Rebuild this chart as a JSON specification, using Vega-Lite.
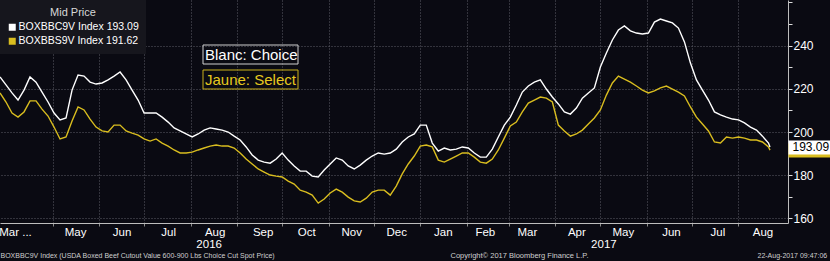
{
  "$schema": "https://vega.github.io/schema/vega-lite/v6.json",
  "width": 788,
  "height": 223,
  "autosize": {"type": "none"},
  "padding": {"left": 0, "top": 0, "right": 42, "bottom": 38},
  "background": "#0a0a12",
  "config": {
    "view": {"stroke": null},
    "font": "Liberation Sans",
    "axis": {"labelFont": "Liberation Sans", "titleFont": "Liberation Sans"},
    "legend": {"labelFont": "Liberation Sans", "titleFont": "Liberation Sans"}
  },
  "data": {
    "values": [
      {"date": "2016-03-27", "choice": 225.5, "select": 218.1},
      {"date": "2016-03-31", "choice": 221.8, "select": 213.9},
      {"date": "2016-04-04", "choice": 218.1, "select": 208.8},
      {"date": "2016-04-08", "choice": 214.8, "select": 206.9},
      {"date": "2016-04-12", "choice": 219.4, "select": 209.3},
      {"date": "2016-04-16", "choice": 225.5, "select": 214.4},
      {"date": "2016-04-20", "choice": 223.1, "select": 214.4},
      {"date": "2016-04-24", "choice": 218.5, "select": 210.6},
      {"date": "2016-04-28", "choice": 213.9, "select": 207.4},
      {"date": "2016-05-02", "choice": 208.8, "select": 202.3},
      {"date": "2016-05-06", "choice": 205.6, "select": 196.8},
      {"date": "2016-05-10", "choice": 206.5, "select": 197.7},
      {"date": "2016-05-14", "choice": 219.4, "select": 205.1},
      {"date": "2016-05-18", "choice": 226.4, "select": 211.6},
      {"date": "2016-05-22", "choice": 225.9, "select": 210.2},
      {"date": "2016-05-26", "choice": 223.1, "select": 206.0},
      {"date": "2016-05-30", "choice": 222.2, "select": 202.3},
      {"date": "2016-06-03", "choice": 222.7, "select": 200.5},
      {"date": "2016-06-07", "choice": 224.1, "select": 200.0},
      {"date": "2016-06-11", "choice": 225.9, "select": 203.2},
      {"date": "2016-06-15", "choice": 227.8, "select": 203.2},
      {"date": "2016-06-19", "choice": 224.1, "select": 200.5},
      {"date": "2016-06-23", "choice": 219.4, "select": 199.5},
      {"date": "2016-06-27", "choice": 214.8, "select": 198.6},
      {"date": "2016-07-01", "choice": 208.8, "select": 196.8},
      {"date": "2016-07-05", "choice": 208.8, "select": 195.8},
      {"date": "2016-07-09", "choice": 208.8, "select": 196.8},
      {"date": "2016-07-13", "choice": 206.9, "select": 194.9},
      {"date": "2016-07-17", "choice": 204.6, "select": 193.5},
      {"date": "2016-07-21", "choice": 201.9, "select": 191.7},
      {"date": "2016-07-25", "choice": 200.5, "select": 190.3},
      {"date": "2016-07-29", "choice": 199.1, "select": 190.3},
      {"date": "2016-08-02", "choice": 197.7, "select": 190.7},
      {"date": "2016-08-06", "choice": 199.1, "select": 191.7},
      {"date": "2016-08-10", "choice": 200.9, "select": 192.6},
      {"date": "2016-08-14", "choice": 201.9, "select": 193.5},
      {"date": "2016-08-18", "choice": 201.4, "select": 194.0},
      {"date": "2016-08-22", "choice": 200.9, "select": 193.5},
      {"date": "2016-08-26", "choice": 200.0, "select": 193.5},
      {"date": "2016-08-30", "choice": 198.1, "select": 192.6},
      {"date": "2016-09-03", "choice": 196.3, "select": 190.3},
      {"date": "2016-09-07", "choice": 193.1, "select": 187.5},
      {"date": "2016-09-11", "choice": 189.4, "select": 185.2},
      {"date": "2016-09-15", "choice": 187.0, "select": 182.9},
      {"date": "2016-09-19", "choice": 186.1, "select": 181.5},
      {"date": "2016-09-23", "choice": 185.6, "select": 180.1},
      {"date": "2016-09-27", "choice": 187.5, "select": 179.6},
      {"date": "2016-10-01", "choice": 190.3, "select": 179.2},
      {"date": "2016-10-05", "choice": 187.0, "select": 177.3},
      {"date": "2016-10-09", "choice": 184.3, "select": 175.9},
      {"date": "2016-10-13", "choice": 181.9, "select": 173.1},
      {"date": "2016-10-17", "choice": 181.9, "select": 172.2},
      {"date": "2016-10-21", "choice": 179.6, "select": 170.8},
      {"date": "2016-10-25", "choice": 179.2, "select": 167.1},
      {"date": "2016-10-29", "choice": 182.4, "select": 169.0},
      {"date": "2016-11-02", "choice": 185.2, "select": 171.8},
      {"date": "2016-11-06", "choice": 188.0, "select": 173.6},
      {"date": "2016-11-10", "choice": 187.0, "select": 172.2},
      {"date": "2016-11-14", "choice": 184.3, "select": 169.9},
      {"date": "2016-11-18", "choice": 182.9, "select": 168.1},
      {"date": "2016-11-22", "choice": 184.7, "select": 167.6},
      {"date": "2016-11-26", "choice": 187.0, "select": 169.4},
      {"date": "2016-11-30", "choice": 188.9, "select": 172.2},
      {"date": "2016-12-04", "choice": 190.3, "select": 173.1},
      {"date": "2016-12-08", "choice": 189.8, "select": 173.1},
      {"date": "2016-12-12", "choice": 190.3, "select": 170.8},
      {"date": "2016-12-16", "choice": 192.1, "select": 175.0},
      {"date": "2016-12-20", "choice": 195.4, "select": 180.6},
      {"date": "2016-12-24", "choice": 197.7, "select": 185.2},
      {"date": "2016-12-28", "choice": 199.1, "select": 188.9},
      {"date": "2017-01-01", "choice": 203.2, "select": 193.5},
      {"date": "2017-01-05", "choice": 203.2, "select": 194.0},
      {"date": "2017-01-09", "choice": 194.9, "select": 193.1},
      {"date": "2017-01-13", "choice": 191.2, "select": 187.0},
      {"date": "2017-01-17", "choice": 192.6, "select": 186.1},
      {"date": "2017-01-21", "choice": 191.7, "select": 187.5},
      {"date": "2017-01-25", "choice": 192.1, "select": 188.9},
      {"date": "2017-01-29", "choice": 193.1, "select": 190.3},
      {"date": "2017-02-02", "choice": 192.6, "select": 190.3},
      {"date": "2017-02-06", "choice": 190.3, "select": 188.4},
      {"date": "2017-02-10", "choice": 188.4, "select": 186.1},
      {"date": "2017-02-14", "choice": 188.4, "select": 185.6},
      {"date": "2017-02-18", "choice": 192.1, "select": 187.5},
      {"date": "2017-02-22", "choice": 197.7, "select": 191.7},
      {"date": "2017-02-26", "choice": 203.2, "select": 197.2},
      {"date": "2017-03-02", "choice": 206.9, "select": 202.8},
      {"date": "2017-03-06", "choice": 212.5, "select": 204.6},
      {"date": "2017-03-10", "choice": 218.5, "select": 209.3},
      {"date": "2017-03-14", "choice": 221.3, "select": 213.4},
      {"date": "2017-03-18", "choice": 223.1, "select": 214.8},
      {"date": "2017-03-22", "choice": 224.1, "select": 216.2},
      {"date": "2017-03-26", "choice": 219.9, "select": 215.7},
      {"date": "2017-03-30", "choice": 216.2, "select": 213.9},
      {"date": "2017-04-03", "choice": 213.0, "select": 203.2},
      {"date": "2017-04-07", "choice": 209.3, "select": 200.5},
      {"date": "2017-04-11", "choice": 208.3, "select": 198.1},
      {"date": "2017-04-15", "choice": 211.1, "select": 199.1},
      {"date": "2017-04-19", "choice": 215.7, "select": 200.9},
      {"date": "2017-04-23", "choice": 218.1, "select": 203.7},
      {"date": "2017-04-27", "choice": 220.4, "select": 206.5},
      {"date": "2017-05-01", "choice": 230.1, "select": 210.2},
      {"date": "2017-05-05", "choice": 236.6, "select": 217.1},
      {"date": "2017-05-09", "choice": 242.6, "select": 222.7},
      {"date": "2017-05-13", "choice": 247.2, "select": 225.9},
      {"date": "2017-05-17", "choice": 249.1, "select": 224.5},
      {"date": "2017-05-21", "choice": 246.8, "select": 223.1},
      {"date": "2017-05-25", "choice": 245.8, "select": 221.3},
      {"date": "2017-05-29", "choice": 245.4, "select": 219.4},
      {"date": "2017-06-02", "choice": 245.8, "select": 218.1},
      {"date": "2017-06-06", "choice": 250.9, "select": 219.0},
      {"date": "2017-06-10", "choice": 252.3, "select": 220.4},
      {"date": "2017-06-14", "choice": 251.4, "select": 221.3},
      {"date": "2017-06-18", "choice": 250.5, "select": 219.9},
      {"date": "2017-06-22", "choice": 248.1, "select": 218.5},
      {"date": "2017-06-26", "choice": 241.7, "select": 216.7},
      {"date": "2017-06-30", "choice": 231.9, "select": 211.6},
      {"date": "2017-07-04", "choice": 224.1, "select": 206.9},
      {"date": "2017-07-08", "choice": 219.4, "select": 203.7},
      {"date": "2017-07-12", "choice": 214.8, "select": 200.5},
      {"date": "2017-07-16", "choice": 209.3, "select": 195.4},
      {"date": "2017-07-20", "choice": 207.9, "select": 194.9},
      {"date": "2017-07-24", "choice": 206.9, "select": 197.7},
      {"date": "2017-07-28", "choice": 206.0, "select": 197.2},
      {"date": "2017-08-01", "choice": 205.6, "select": 197.7},
      {"date": "2017-08-05", "choice": 204.2, "select": 197.2},
      {"date": "2017-08-09", "choice": 202.3, "select": 196.3},
      {"date": "2017-08-13", "choice": 200.9, "select": 196.3},
      {"date": "2017-08-17", "choice": 198.1, "select": 195.4},
      {"date": "2017-08-21", "choice": 194.9, "select": 193.1},
      {"date": "2017-08-22", "choice": 193.09, "select": 191.62}
    ]
  },
  "transform": [{"fold": ["select", "choice"], "as": ["series", "price"]}],
  "layer": [
    {
      "transform": [{"filter": "datum.series == 'select'"}],
      "mark": {"type": "line", "strokeWidth": 1.4},
      "encoding": {
        "x": {
          "field": "date", "type": "temporal",
          "scale": {"domain": [{"year": 2016, "month": 3, "date": 27}, {"year": 2017, "month": 9, "date": 3}]},
          "axis": {
            "orient": "bottom",
            "values": [
              {"year": 2016, "month": 5, "date": 1}, {"year": 2016, "month": 6, "date": 1},
              {"year": 2016, "month": 7, "date": 1}, {"year": 2016, "month": 8, "date": 1},
              {"year": 2016, "month": 9, "date": 1}, {"year": 2016, "month": 10, "date": 1},
              {"year": 2016, "month": 11, "date": 1}, {"year": 2016, "month": 12, "date": 1},
              {"year": 2017, "month": 1, "date": 1}, {"year": 2017, "month": 2, "date": 1},
              {"year": 2017, "month": 3, "date": 1}, {"year": 2017, "month": 4, "date": 1},
              {"year": 2017, "month": 5, "date": 1}, {"year": 2017, "month": 6, "date": 1},
              {"year": 2017, "month": 7, "date": 1}, {"year": 2017, "month": 8, "date": 1}
            ],
            "labels": false,
            "grid": true, "gridColor": "#5c5c66", "gridDash": [1, 2],
            "ticks": true, "tickSize": 3, "tickColor": "#8a8a8a",
            "domainColor": "#bdbdbd",
            "title": "BOXBBC9V Index (USDA Boxed Beef Cutout Value 600-900 Lbs Choice Cut Spot Price)",
            "titleX": 0, "titleY": 32, "titleAlign": "left", "titleAnchor": "start", "titleBaseline": "middle",
            "titleFontSize": 7, "titleFontWeight": "normal", "titleColor": "#cfcfcf", "titleFont": "Liberation Sans"
          }
        },
        "y": {
          "field": "price", "type": "quantitative",
          "scale": {"domain": [157.9, 261.1], "nice": false, "zero": false},
          "axis": {
            "orient": "right",
            "values": [160, 170, 180, 190, 200, 210, 220, 230, 240, 250, 260],
            "labelExpr": "datum.value % 20 == 0 && datum.value <= 240 ? datum.label : ''",
            "grid": true, "gridColor": "#5c5c66", "gridDash": [1, 2],
            "gridOpacity": {"condition": {"test": "datum.value % 20 == 0 && datum.value <= 240", "value": 1}, "value": 0},
            "tickColor": "#dddddd", "tickSize": 4,
            "labelColor": "#ffffff", "labelFontSize": 12, "labelPadding": 1,
            "domainColor": "#bdbdbd", "title": null
          }
        },
        "color": {
          "field": "series", "type": "nominal",
          "scale": {"domain": ["choice", "select"], "range": ["#ffffff", "#d9bd1f"]},
          "legend": {
            "orient": "top-left", "offset": 0,
            "title": "Mid Price", "titleColor": "#d8d8d8", "titleFontSize": 11, "titleFontWeight": "normal",
            "titleAnchor": "middle", "titlePadding": 4,
            "labelExpr": "datum.value == 'choice' ? 'BOXBBC9V Index 193.09' : 'BOXBBS9V Index 191.62'",
            "labelColor": "#ffffff", "labelFontSize": 10.5, "labelOffset": 1,
            "symbolType": "square", "symbolSize": 49, "symbolStrokeWidth": 0,
            "symbolFillColor": {"expr": "datum.value == 'choice' ? '#ffffff' : '#d9bd1f'"},
            "fillColor": "#16161d", "padding": 7, "rowPadding": 3
          }
        }
      }
    },
    {
      "transform": [{"filter": "datum.series == 'choice'"}],
      "mark": {"type": "line", "strokeWidth": 1.4},
      "encoding": {
        "x": {
          "field": "date", "type": "temporal",
          "axis": {
            "orient": "bottom",
            "values": [
              {"year": 2016, "month": 4, "date": 6}, {"year": 2016, "month": 5, "date": 16},
              {"year": 2016, "month": 6, "date": 16}, {"year": 2016, "month": 7, "date": 17},
              {"year": 2016, "month": 8, "date": 17}, {"year": 2016, "month": 9, "date": 18},
              {"year": 2016, "month": 10, "date": 17}, {"year": 2016, "month": 11, "date": 16},
              {"year": 2016, "month": 12, "date": 16}, {"year": 2017, "month": 1, "date": 16},
              {"year": 2017, "month": 2, "date": 13}, {"year": 2017, "month": 3, "date": 13},
              {"year": 2017, "month": 4, "date": 15}, {"year": 2017, "month": 5, "date": 16},
              {"year": 2017, "month": 6, "date": 17}, {"year": 2017, "month": 7, "date": 18},
              {"year": 2017, "month": 8, "date": 17}
            ],
            "labelExpr": "year(datum.value) == 2016 && month(datum.value) == 3 ? 'Mar ...' : timeFormat(datum.value, '%b')",
            "grid": false, "ticks": false, "domain": false,
            "labelColor": "#ffffff", "labelFontSize": 11.5, "labelPadding": 3, "labelFlush": false, "labelOverlap": false,
            "title": "Copyright\u00a9 2017 Bloomberg Finance L.P.",
            "titleX": 450, "titleY": 32, "titleAlign": "left", "titleAnchor": "start", "titleBaseline": "middle",
            "titleFontSize": 7.5, "titleFontWeight": "normal", "titleColor": "#cfcfcf", "titleFont": "Liberation Sans"
          }
        },
        "y": {
          "field": "price", "type": "quantitative",
          "axis": {
            "orient": "right", "values": [191.62],
            "labels": false, "grid": false, "domain": false,
            "tickColor": "#d9bd1f", "tickSize": 42, "tickWidth": 14,
            "title": null
          }
        },
        "color": {"field": "series", "type": "nominal"}
      }
    },
    {
      "mark": {"type": "point", "opacity": 0},
      "encoding": {
        "x": {
          "field": "date", "type": "temporal",
          "axis": {
            "orient": "bottom",
            "values": [{"year": 2016, "month": 8, "date": 13}, {"year": 2017, "month": 5, "date": 3}],
            "format": "%Y",
            "grid": false, "ticks": false, "domain": false,
            "labelColor": "#ffffff", "labelFontSize": 11.5, "labelPadding": 15, "labelFlush": false,
            "title": "22-Aug-2017 09:47:06",
            "titleX": 757, "titleY": 32, "titleAlign": "left", "titleAnchor": "start", "titleBaseline": "middle",
            "titleFontSize": 7, "titleFontWeight": "normal", "titleColor": "#cfcfcf", "titleFont": "Liberation Sans"
          }
        },
        "y": {
          "field": "price", "type": "quantitative",
          "axis": {
            "orient": "right", "values": [193.09], "format": ".2f",
            "grid": false, "domain": false,
            "tickColor": "#ffffff", "tickSize": 42, "tickWidth": 14,
            "labelColor": "#000000", "labelFontSize": 12, "labelPadding": -38,
            "title": null
          }
        },
        "shape": {
          "field": "series", "type": "nominal",
          "scale": {"domain": ["choice", "select"], "range": ["M-1,-1H9V1H-1Z", "M-1,-1H9V1H-1Z"]},
          "legend": {
            "orient": "none", "legendX": 202.5, "legendY": 44.5, "title": null, "padding": 0,
            "symbolSize": 361, "symbolStrokeWidth": 1, "symbolFillColor": "#0a0a12", "symbolOpacity": 1,
            "symbolStrokeColor": {"expr": "datum.value == 'choice' ? '#cfcfcf' : '#c9b01a'"},
            "rowPadding": 1, "labelLimit": 300,
            "labelExpr": "datum.value == 'choice' ? 'Blanc: Choice' : 'Jaune: Select'",
            "labelFontSize": 15, "labelOffset": -17.5,
            "labelColor": {"expr": "datum.value == 'choice' ? '#ffffff' : '#e6c91f'"}
          }
        }
      }
    }
  ],
  "resolve": {"axis": {"x": "independent", "y": "independent"}}
}
